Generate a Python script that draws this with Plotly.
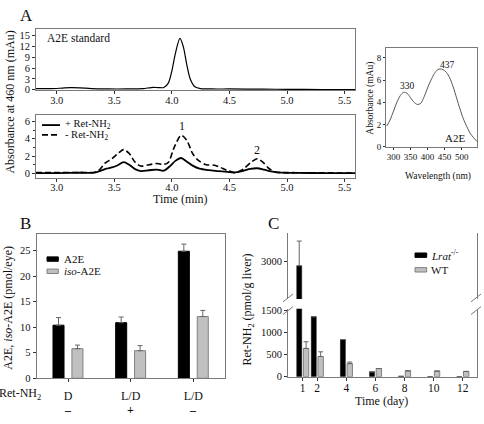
import plotly.graph_objects as go

W, H = 484, 424


def px(x):
    return x / W


def py(y):
    return 1 - y / H


# ---------------- Panel A data ----------------
std_time = [2.82, 2.95, 3.05, 3.12, 3.2, 3.3, 3.45, 3.6, 3.75, 3.82, 3.88, 3.93, 3.97, 4.0, 4.03,
            4.07, 4.1, 4.13, 4.16, 4.2, 4.25, 4.35, 4.5, 4.8, 5.0, 5.3, 5.59]
std_abs = [0.3, 0.3, 0.45, 0.55, 0.5, 0.3, 0.2, 0.2, 0.3, 0.6, 0.6, 0.6, 1.9, 5.2, 10.0,
           14.2, 11.8, 6.8, 2.9, 0.8, 0.3, 0.2, 0.2, 0.15, 0.1, 0.05, 0.0]

plus_time = [2.82, 3.0, 3.2, 3.33, 3.38, 3.43, 3.48, 3.53, 3.58, 3.63, 3.68, 3.73, 3.8, 3.87, 3.93,
             3.98, 4.03, 4.08, 4.13, 4.18, 4.24, 4.32, 4.4, 4.48, 4.54, 4.62, 4.68, 4.74, 4.8, 4.86,
             4.95, 5.1, 5.3, 5.59]
plus_abs = [0.05, 0.05, 0.08, 0.1, 0.3, 0.55, 0.7, 0.95, 1.3, 1.0, 0.5, 0.28, 0.37, 0.45, 0.32,
            0.8, 1.45, 1.78, 1.35, 0.9, 0.55, 0.38, 0.28, 0.18, 0.1, 0.3, 0.52, 0.6, 0.45, 0.25,
            0.1, 0.06, 0.05, 0.05]

minus_time = [2.82, 3.0, 3.2, 3.33, 3.37, 3.42, 3.48, 3.54, 3.58, 3.63, 3.68, 3.73, 3.8, 3.87,
              3.93, 3.97, 4.02, 4.08, 4.13, 4.18, 4.23, 4.3, 4.37, 4.42, 4.48, 4.55, 4.62, 4.68,
              4.74, 4.79, 4.84, 4.9, 5.0, 5.2, 5.59]
minus_abs = [0.1, 0.1, 0.12, 0.15, 0.4, 1.2, 1.7, 2.4, 2.75, 2.3, 1.3, 0.85, 1.0, 1.15, 1.05,
             1.3, 3.0, 4.4, 3.8, 2.3, 1.5, 1.0, 0.95, 0.7, 0.35, 0.1, 0.5, 1.2, 1.7, 1.3, 0.6,
             0.15, 0.1, 0.08, 0.05]

spec_wl = [280, 290, 300, 310, 320, 330, 340, 350, 360, 370, 380, 390, 400, 410, 420, 430, 437,
           445, 455, 465, 475, 485, 495, 505, 515, 525, 535, 545]
spec_abs = [1.85, 2.4, 3.2, 4.0, 4.6, 4.9, 4.8, 4.4, 4.0, 3.8, 3.9, 4.5, 5.3, 6.0, 6.6, 6.95,
            7.0, 6.95, 6.7, 6.2, 5.4, 4.4, 3.4, 2.5, 1.8, 1.2, 0.8, 0.45]

a_xticks = [3.0, 3.5, 4.0, 4.5, 5.0, 5.5]
a_top_yticks = [0, 3, 6, 9, 12, 15]
a_bot_yticks = [0, 2, 4, 6]
spec_xticks = [300, 350, 400, 450, 500]
spec_yticks = [0, 2, 4, 6, 8]

# ---------------- Panel B data ----------------
b_light = ["D", "L/D", "L/D"]
b_retnh2 = ["–", "+", "–"]
b_a2e = [10.4, 10.9, 24.9]
b_a2e_err = [1.5, 1.1, 1.4]
b_iso = [5.8, 5.4, 12.1]
b_iso_err = [0.7, 1.0, 1.2]
b_yticks = [0, 5, 10, 15, 20, 25]

# ---------------- Panel C data ----------------
c_days = [1, 2, 4, 6, 8, 10, 12]
c_lrat = [2900, 1358, 840, 110, 8, 0, 0]
c_lrat_err = [560, 0, 0, 0, 0, 0, 0]
c_wt = [640, 458, 296, 185, 133, 126, 119]
c_wt_err = [150, 105, 36, 0, 0, 0, 0]
c_low_yticks = [0, 500, 1000, 1500]
c_high_yticks = [3000]

FONT = "Liberation Serif, Times New Roman, serif"
AX = "#7a7a7a"
TK = "#333333"
TICKF = dict(family=FONT, size=10.5, color="#111")

b_keys = [f"{l} {s}" for l, s in zip(b_light, b_retnh2)]

fig = go.Figure()

# Panel A traces
fig.add_trace(go.Scatter(x=std_time, y=std_abs, mode="lines", xaxis="x", yaxis="y",
                         line=dict(color="black", width=1.2, shape="spline", smoothing=0.8),
                         showlegend=False))
fig.add_trace(go.Scatter(x=minus_time, y=minus_abs, mode="lines", xaxis="x2", yaxis="y2",
                         name="- Ret-NH2",
                         line=dict(color="black", width=1.6, dash="6px,3px", shape="spline", smoothing=0.8),
                         showlegend=False))
fig.add_trace(go.Scatter(x=plus_time, y=plus_abs, mode="lines", xaxis="x2", yaxis="y2",
                         name="+ Ret-NH2",
                         line=dict(color="black", width=1.8, shape="spline", smoothing=0.8),
                         showlegend=False))
fig.add_trace(go.Scatter(x=spec_wl, y=spec_abs, mode="lines", xaxis="x3", yaxis="y3",
                         line=dict(color="#555", width=1, shape="spline", smoothing=0.8),
                         showlegend=False))

# Panel B traces
fig.add_trace(go.Bar(x=b_keys, y=b_a2e, xaxis="x4", yaxis="y4", name="A2E",
                     width=0.176, offset=-0.24,
                     marker=dict(color="black", line=dict(color="black", width=1)),
                     error_y=dict(type="data", array=b_a2e_err, symmetric=False,
                                  arrayminus=[0] * 3, color="#666", thickness=1, width=2.5),
                     showlegend=False))
fig.add_trace(go.Bar(x=b_keys, y=b_iso, xaxis="x4", yaxis="y4", name="iso-A2E",
                     width=0.176, offset=0.062,
                     marker=dict(color="#c0c0c0", line=dict(color="#808080", width=1)),
                     error_y=dict(type="data", array=b_iso_err, symmetric=False,
                                  arrayminus=[0] * 3, color="#666", thickness=1, width=2.5),
                     showlegend=False))

# Panel C traces (lower and upper segment of the broken axis)
for ya in ["y5", "y6"]:
    fig.add_trace(go.Bar(x=c_days, y=c_lrat, xaxis="x5", yaxis=ya, name="Lrat-/-",
                         width=0.34, offset=-0.405,
                         marker=dict(color="black", line=dict(color="black", width=0.5)),
                         error_y=dict(type="data", array=c_lrat_err, symmetric=False,
                                      arrayminus=[0] * 7, color="#666", thickness=1, width=2.5),
                         showlegend=False))
    fig.add_trace(go.Bar(x=c_days, y=c_wt, xaxis="x5", yaxis=ya, name="WT",
                         width=0.37, offset=0.05,
                         marker=dict(color="#c0c0c0", line=dict(color="#808080", width=1)),
                         error_y=dict(type="data", array=c_wt_err, symmetric=False,
                                      arrayminus=[0] * 7, color="#666", thickness=1, width=2.5),
                         showlegend=False))

box = dict(showline=True, linecolor=AX, linewidth=1, mirror=True, showgrid=False, zeroline=False,
           ticks="outside", ticklen=3, tickcolor=TK, tickfont=TICKF)

fig.update_layout(
    width=W, height=H, autosize=False,
    margin=dict(l=0, r=0, t=0, b=0),
    paper_bgcolor="white", plot_bgcolor="white",
    barmode="overlay",
    font=dict(family=FONT, size=11, color="#111"),
    xaxis=dict(box, domain=[px(36), px(355)], range=[2.82, 5.59], anchor="y",
               tickvals=a_xticks, tickformat=".1f", ticklabelstandoff=-3),
    yaxis=dict(box, domain=[py(88.5), py(26)], range=[-0.2, 16.7], anchor="x",
               tickvals=a_top_yticks),
    xaxis2=dict(box, domain=[px(36), px(355)], range=[2.82, 5.59], anchor="y2",
                tickvals=a_xticks, tickformat=".1f", ticklabelstandoff=-3),
    yaxis2=dict(box, domain=[py(178), py(114)], range=[-0.5, 6.7], anchor="x2",
                tickvals=a_bot_yticks,
                minor=dict(dtick=1, ticks="outside", ticklen=2, tickcolor=TK)),
    xaxis3=dict(box, domain=[px(386), px(477)], range=[278, 545], anchor="y3",
                tickvals=spec_xticks, ticklen=2, tickfont=dict(family=FONT, size=9, color="#111")),
    yaxis3=dict(box, domain=[py(146), py(45)], range=[0, 8.9], anchor="x3",
                tickvals=spec_yticks, ticklen=2, tickfont=dict(family=FONT, size=9, color="#111")),
    xaxis4=dict(box, domain=[px(36.7), px(224.7)], type="category", anchor="y4",
                range=[-0.5, 2.5], tickvals=b_keys, ticktext=b_light,
                ticklabelstandoff=3, tickfont=dict(family=FONT, size=12, color="#111")),
    yaxis4=dict(box, domain=[py(383.3), py(236)], range=[0, 28.2], anchor="x4",
                tickvals=b_yticks),
    xaxis5=dict(showline=True, linecolor=AX, linewidth=1, showgrid=False, zeroline=False,
                ticks="outside", ticklen=3, tickcolor=TK, ticklabelstandoff=-2,
                tickfont=dict(family=FONT, size=11.5, color="#111"),
                domain=[px(288.1), px(477.3)], range=[0, 13], anchor="y5", tickvals=c_days),
    yaxis5=dict(box, domain=[py(381.7), py(312)], range=[0, 1540], anchor="x5",
                tickvals=c_low_yticks),
    yaxis6=dict(box, domain=[py(302), py(235)], range=[2150, 3632], anchor="x5",
                tickvals=c_high_yticks),
)

ann = []


def text(x, y, t, size=11, xanchor="center", angle=0, yanchor="middle"):
    ann.append(dict(x=px(x), y=py(y), xref="paper", yref="paper", text=t, showarrow=False,
                    xanchor=xanchor, yanchor=yanchor, textangle=angle,
                    font=dict(family=FONT, size=size, color="#111")))


# panel letters
text(26, 12, "A", 17)
text(25, 225, "B", 17)
text(273, 225, "C", 17)

# Panel A texts
text(45, 35, "A2E standard", 11.5, xanchor="left")
text(10, 101, "Absorbance at 460 nm (mAu)", 12, angle=-90)
text(180, 200, "Time (min)", 12)
text(182, 125, "1", 12)
text(257, 150, "2", 12)
text(63, 123, "+ Ret-NH<sub>2</sub>", 10.5, xanchor="left")
text(63, 135, "- Ret-NH<sub>2</sub>", 10.5, xanchor="left")

# Spectrum texts
text(371, 97, "Absorbance (mAu)", 9.5, angle=-90)
text(438, 177, "Wavelength (nm)", 9.5)
text(407, 84, "330", 9.5)
text(447, 62, "437", 9.5)
text(455, 137, "A2E", 11)

# Panel B texts
text(8, 311, "A2E, <i>iso</i>-A2E (pmol/eye)", 12, angle=-90)
text(20, 399, "Ret-NH<sub>2</sub>", 12)
text(62, 261, "A2E", 11, xanchor="left")
text(62, 273.5, "<i>iso</i>-A2E", 11, xanchor="left")
for k, s in zip(b_keys, b_retnh2):
    ann.append(dict(x=k, y=py(416), xref="x4", yref="paper", text=f"<b>{s}</b>",
                    showarrow=False, xanchor="center", yanchor="middle",
                    font=dict(family=FONT, size=12, color="#111")))

# Panel C texts
text(248, 313, "Ret-NH<sub>2</sub> (pmol/g liver)", 12, angle=-90)
text(381, 407, "Time (day)", 12)
text(428.5, 257, "<i>Lrat</i><sup>-/-</sup>", 11, xanchor="left")
text(428.5, 272.5, "WT", 11, xanchor="left")

fig.update_layout(annotations=ann)

shapes = []


def line(x0, y0, x1, y1, color="black", width=1, dash=None):
    d = dict(type="line", xref="paper", yref="paper", x0=px(x0), y0=py(y0), x1=px(x1), y1=py(y1),
             line=dict(color=color, width=width))
    if dash:
        d["line"]["dash"] = dash
    shapes.append(d)


def rect(x0, y0, x1, y1, fill, color):
    shapes.append(dict(type="rect", xref="paper", yref="paper", x0=px(x0), y0=py(y0), x1=px(x1),
                       y1=py(y1), fillcolor=fill, line=dict(color=color, width=1)))


# Panel A legend samples
line(42, 124, 60, 124, width=1.8)
line(42, 134, 60, 134, width=1.6, dash="6px,3px")
# Panel B legend
rect(47, 259, 58.3, 263.5, "black", "black")
rect(47, 271.5, 58.3, 276, "#c0c0c0", "#808080")
# Panel C legend
rect(415, 255, 426.7, 259.5, "black", "black")
rect(415, 270, 426.7, 274.5, "#c0c0c0", "#808080")
# axis break marks
line(283, 305, 293, 297, color=AX)
line(283, 318, 293, 310, color=AX)
line(471, 305, 481, 297, color=AX)
line(471, 318, 481, 310, color=AX)

fig.update_layout(shapes=shapes)

fig.write_html("out.html", config={"displayModeBar": False},
               post_script="document.body.style.margin='0px';")
